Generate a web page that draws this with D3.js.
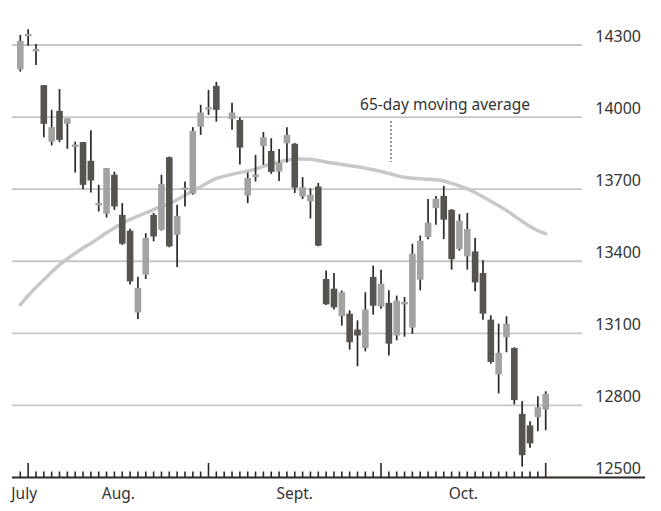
<!DOCTYPE html>
<html><head><meta charset="utf-8">
<script src="https://cdn.jsdelivr.net/npm/d3@7/dist/d3.min.js"></script>
<style>html,body{margin:0;padding:0;background:#fff;}svg{display:block;}</style>
</head><body>
<svg id="chart" width="661" height="511"></svg>
<script>
// trading-day slot index on the weekday axis (slot 26 is a market holiday)
const slots  = [0,1,2,3,4,5,6,7,8,9,10,11,12,13,14,15,16,17,18,19,20,21,22,23,24,25,27,28,29,30,31,32,33,34,35,36,37,38,39,40,41,42,43,44,45,46,47,48,49,50,51,52,53,54,55,56,57,58,59,60,61,62,63,64,65,66,67];
const opens  = [14199,14340,14277,14133,13898,14026,13972,13879,13896,13818,13636,13598,13760,13593,13527,13187,13344,13593,13531,13833,13510,13700,13681,13960,14035,14130,13992,13988,13674,13754,13880,13859,13773,13891,13889,13670,13649,13711,13326,13286,13171,13182,13116,13039,13335,13212,13227,13091,13224,13124,13323,13501,13621,13672,13614,13451,13420,13441,13351,13157,12929,13084,13039,12765,12717,12751,12783];
const highs  = [14342,14366,14304,14133,14030,14117,13995,13898,13896,13945,13718,13788,13773,13642,13535,13335,13517,13601,13760,13836,13635,13732,13958,14051,14113,14147,14060,13998,13769,13843,13938,13912,13867,13958,13892,13750,13703,13726,13361,13351,13278,13196,13154,13271,13382,13365,13279,13257,13251,13473,13507,13659,13672,13714,13617,13596,13601,13497,13404,13175,13140,13171,13042,12818,12734,12838,12859];
const lows   = [14189,14297,14217,13916,13882,13896,13868,13769,13700,13686,13607,13582,13614,13468,13303,13160,13326,13483,13528,13458,13376,13628,13677,13926,14009,13981,13947,13803,13642,13732,13801,13764,13734,13811,13684,13659,13578,13462,13218,13199,13132,13032,12963,13025,13178,13202,13008,13071,13086,13098,13279,13492,13552,13492,13365,13444,13365,13275,13157,12974,12850,13021,12804,12545,12624,12693,12697];
const closes = [14317,14343,14280,13972,13958,13905,13995,13882,13718,13736,13639,13788,13628,13473,13316,13289,13497,13503,13722,13462,13589,13703,13943,14019,14038,14030,14019,13873,13746,13757,13916,13772,13810,13926,13706,13708,13677,13465,13221,13208,13271,13063,13091,13199,13215,13307,13057,13236,13227,13431,13485,13561,13660,13573,13409,13569,13534,13312,13182,12981,13019,13140,12822,12593,12642,12793,12848];
const movingAvg = [13219,13257,13292,13323,13355,13386,13411,13433,13456,13475,13496,13519,13539,13558,13575,13587,13602,13614,13629,13639,13656,13675,13693,13710,13729,13747,13762,13769,13775,13783,13795,13805,13814,13821,13826,13826,13825,13820,13812,13808,13803,13798,13793,13788,13781,13774,13766,13756,13749,13745,13743,13742,13739,13735,13724,13714,13702,13687,13668,13650,13631,13612,13589,13566,13544,13527,13515];
const yTicks = [12500,12800,13100,13400,13700,14000,14300];
const monthBounds = [0,1,24,46,67];          // long ticks at the inner/right bounds
const monthLabels = ["July","Aug.","Sept.","Oct."];
const maLabel = "65-day moving average";

const svg = d3.select("#chart");
const x = d3.scaleLinear().domain([0,67]).range([20.3,545.7]);
const y = d3.scaleLinear().domain([12500,14300]).range([477.5,45]);

// gridlines
svg.append("g").selectAll("line").data(yTicks.filter(d=>d>12500)).join("line")
  .attr("x1",12).attr("x2",582).attr("y1",d=>y(d)).attr("y2",d=>y(d))
  .attr("stroke","#c6c6c6").attr("stroke-width",1.8);

// y labels
svg.append("g").selectAll("text").data(yTicks).join("text")
  .attr("x",641).attr("y",d=>y(d)-3.5).attr("text-anchor","end")
  .attr("font-family","Noto Sans, sans-serif").attr("font-size",16).attr("fill","#333")
  .text(d=>d);

// moving average
const ma = slots.map((s,i)=>({s, v: movingAvg[i]}));
svg.append("path").datum(ma)
  .attr("d", d3.line().x(d=>x(d.s)).y(d=>y(d.v)).curve(d3.curveBasis))
  .attr("fill","none").attr("stroke","#c8c8c8").attr("stroke-width",3.5).attr("stroke-linecap","round");

// annotation
svg.append("text").attr("x",445).attr("y",109.5).attr("text-anchor","middle")
  .attr("font-family","Noto Sans, sans-serif").attr("font-size",15.5).attr("fill","#333")
  .text(maLabel);
svg.append("line").attr("x1",391).attr("x2",391).attr("y1",121).attr("y2",162)
  .attr("stroke","#777").attr("stroke-width",1.5).attr("stroke-dasharray","2,2");

// candles
const candles = slots.map((s,i)=>({s, o:opens[i], h:highs[i], l:lows[i], c:closes[i]}));
const bw = 6.6;
const g = svg.append("g");
g.selectAll("line.wick").data(candles).join("line").attr("class","wick")
  .attr("x1",d=>x(d.s)).attr("x2",d=>x(d.s)).attr("y1",d=>y(d.h)).attr("y2",d=>y(d.l))
  .attr("stroke","#2e2722").attr("stroke-width",1.7);
g.selectAll("rect").data(candles).join("rect")
  .attr("x",d=>x(d.s)-bw/2).attr("width",bw)
  .attr("y",d=>{const t=y(Math.max(d.o,d.c)), b=y(Math.min(d.o,d.c)); return (b-t<2.4)?(t+b)/2-1.2:t;})
  .attr("height",d=>Math.max(2.4, y(Math.min(d.o,d.c))-y(Math.max(d.o,d.c))))
  .attr("fill",d=>d.c>=d.o?"#a2a2a0":"#57534f");

// x axis
svg.append("line").attr("x1",12).attr("x2",645).attr("y1",477.5).attr("y2",477.5)
  .attr("stroke","#2e2722").attr("stroke-width",1.8);
const longTicks = monthBounds.slice(1);
svg.append("g").selectAll("line").data(d3.range(0,68)).join("line")
  .attr("x1",d=>x(d)).attr("x2",d=>x(d))
  .attr("y1",477.5).attr("y2",d=>longTicks.includes(d)?463:471.5)
  .attr("stroke","#2e2722").attr("stroke-width",1.6);
svg.append("g").selectAll("text").data(monthLabels).join("text")
  .attr("x",(d,i)=>x((monthBounds[i]+monthBounds[i+1])/2)).attr("y",499)
  .attr("text-anchor","middle")
  .attr("font-family","Noto Sans, sans-serif").attr("font-size",15.5).attr("fill","#333")
  .text(d=>d);
</script>
</body></html>
